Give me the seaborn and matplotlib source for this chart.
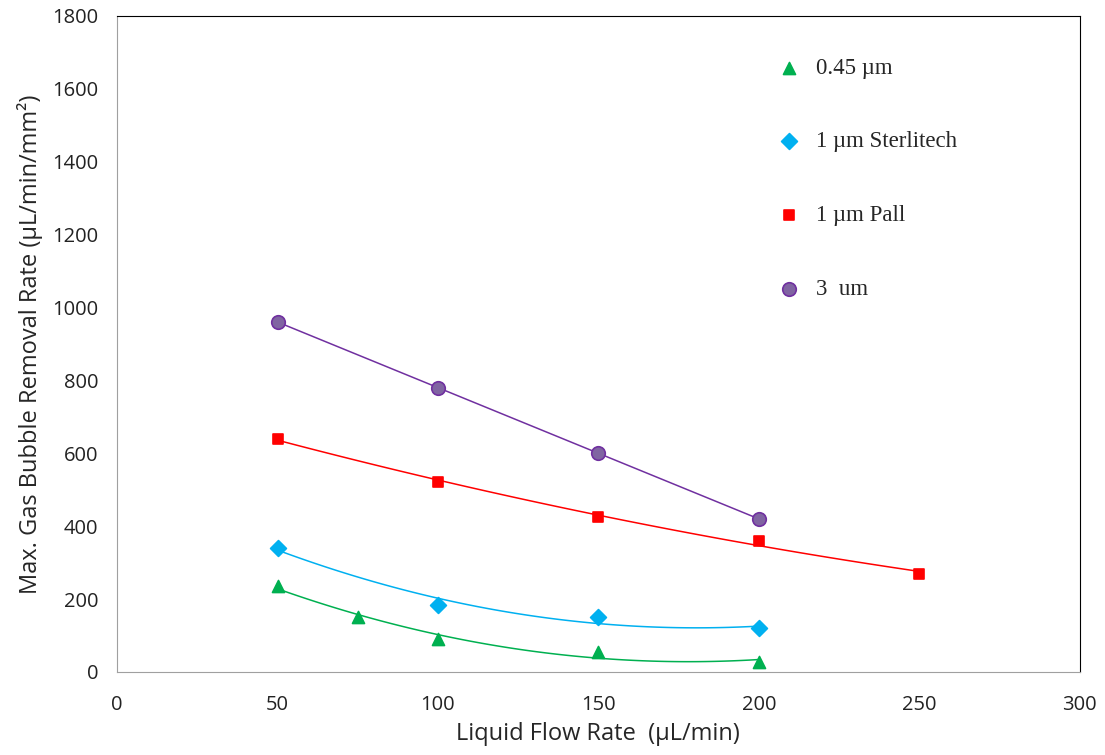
import numpy as np
import pandas as pd
import matplotlib.pyplot as plt
import seaborn as sns

# data
x_045 = [50, 75, 100, 150, 200]
y_045 = [237, 150, 90, 55, 28]

x_ster = [50, 100, 150, 200]
y_ster = [340, 185, 150, 120]

x_pall = [50, 100, 150, 200, 250]
y_pall = [640, 520, 425, 360, 270]

x_3um = [50, 100, 150, 200]
y_3um = [960, 780, 600, 420]

labels = ["0.45 \u00b5m", "1 \u00b5m Sterlitech", "1 \u00b5m Pall", "3  um"]

series = [
    (x_045, y_045, labels[0], "^", "#00B050", "#00B050", "#00B050", 75),
    (x_ster, y_ster, labels[1], "D", "#00B0F0", "#00B0F0", "#00B0F0", 65),
    (x_pall, y_pall, labels[2], "s", "#FF0000", "#FF0000", "#FF0000", 55),
    (x_3um, y_3um, labels[3], "o", "#8064A2", "#7030A0", "#7030A0", 95),
]

sns.set_style("white")
plt.rcParams['font.family'] = ['Open Sans', 'DejaVu Sans']

fig, ax = plt.subplots(figsize=(11.05, 7.55), dpi=100)
fig.subplots_adjust(left=0.106, right=0.977, top=0.979, bottom=0.11)

for xs, ys, lab, mk, face, edge, lc, sz in series:
    df = pd.DataFrame({"x": xs, "y": ys})
    sns.regplot(data=df, x="x", y="y", order=2, ci=None, scatter=False,
                truncate=True, ax=ax, line_kws={"color": lc, "lw": 1.1})
    sns.scatterplot(data=df, x="x", y="y", marker=mk, color=face,
                    edgecolor=edge, linewidth=1.2, s=sz, ax=ax, label=lab,
                    zorder=3)

ax.set_xlim(0, 300)
ax.set_ylim(0, 1800)
ax.set_xticks(range(0, 301, 50))
ax.set_yticks(range(0, 1801, 200))
ax.tick_params(axis="both", direction="inout", length=9, width=1,
               color="#A0A0A0", labelsize=14.5, labelcolor="#222222")
ax.tick_params(axis="y", pad=9)
ax.tick_params(axis="x", pad=12)

for side in ["left", "bottom"]:
    ax.spines[side].set_color("#A0A0A0")
for side in ["top", "right"]:
    ax.spines[side].set_color("black")

ax.set_xlabel("Liquid Flow Rate  (\u00b5L/min)", fontsize=17, labelpad=5)
ax.set_ylabel("Max. Gas Bubble Removal Rate (\u00b5L/min/mm\u00b2)", fontsize=17, labelpad=7)

ax.legend(loc="upper left", bbox_to_anchor=(0.662, 0.968), frameon=False,
          prop={"family": "Liberation Serif", "size": 16.5},
          labelspacing=2.3, handletextpad=0.6, handlelength=1.2)

plt.savefig("out.png", dpi=100)
